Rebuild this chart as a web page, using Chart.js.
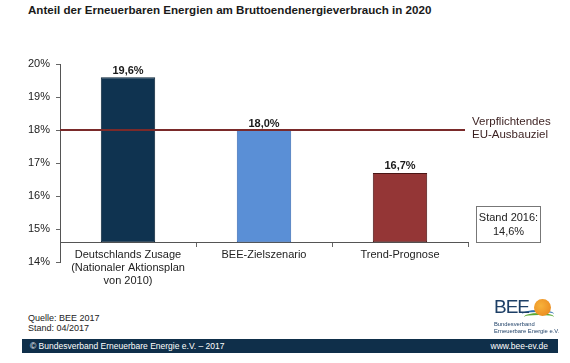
<!DOCTYPE html>
<html>
<head>
<meta charset="utf-8">
<script src="https://cdn.jsdelivr.net/npm/chart.js@4"></script>
<style>
  body { margin: 0; width: 570px; height: 363px; background: #fff; position: relative; overflow: hidden;
         font-family: "Liberation Sans", Arial, sans-serif; color: #222; }
  #title { position: absolute; left: 28px; top: 3px; font-size: 11.6px; font-weight: bold; color: #1a1a1a; }
  #wrap { position: absolute; left: 0; top: 0; width: 570px; height: 300px; }
  #stand { position: absolute; left: 476px; top: 206px; width: 65px; height: 37px; border: 1px solid #777;
           font-size: 11px; text-align: center; line-height: 14px; box-sizing: border-box; padding-top: 3px; color: #222; }
  #src { position: absolute; left: 28px; top: 314px; font-size: 9px; line-height: 9.5px; color: #222; }
  #bar { position: absolute; left: 22px; top: 339px; width: 536px; height: 14px; background: #0f2f4a;
         color: #fff; font-size: 8.5px; line-height: 14px; }
  #bar .l { position: absolute; left: 8px; }
  #bar .r { position: absolute; right: 10px; }
  #logo { position: absolute; left: 494px; top: 296px; width: 70px; height: 38px; }
  #logo .bee { position: absolute; left: 0; top: 0; font-size: 19px; color: #1d3f66; letter-spacing: -1px; }
  #logo .sun { position: absolute; left: 40px; top: 3px; width: 17px; height: 17px; border-radius: 50%;
               background: radial-gradient(circle at 40% 40%, #f7b23a, #e8821a); }
  #logo .w1 { position: absolute; left: 28px; top: 14px; width: 32px; height: 6px; border-top: 2px solid #2f6fb0; border-radius: 50%; }
  #logo .w2 { position: absolute; left: 30px; top: 17px; width: 30px; height: 6px; border-top: 2px solid #5aa832; border-radius: 50%; }
  #logo .t { position: absolute; left: 0; font-size: 5.8px; color: #1d3f66; white-space: nowrap; }
</style>
</head>
<body>
<div id="title">Anteil der Erneuerbaren Energien am Bruttoendenergieverbrauch in 2020</div>
<div id="wrap"><canvas id="chart"></canvas></div>
<div id="stand">Stand 2016:<br>14,6%</div>
<div id="src">Quelle: BEE 2017<br>Stand: 04/2017</div>
<div id="logo">
  <div class="w1"></div><div class="w2"></div><div class="sun"></div>
  <div class="bee">BEE</div>
  <div class="t" style="top:25px">Bundesverband</div>
  <div class="t" style="top:32px">Erneuerbare Energie e.V.</div>
</div>
<div id="bar"><span class="l">© Bundesverband Erneuerbare Energie e.V. – 2017</span><span class="r">www.bee-ev.de</span></div>
<script>
const categories = [
  ["Deutschlands Zusage", "(Nationaler Aktionsplan", "von 2010)"],
  "BEE-Zielszenario",
  "Trend-Prognose"
];
const values = [19.6, 18.0, 16.7];
const stand2016 = 14.6;
const euTarget = 18;
const yTicks = [14, 15, 16, 17, 18, 19, 20];
const barColors = ["#0f3350", "#5a8fd6", "#943636"];
const barBorders = ["#0a2438", "#3b6db5", "#4a1515"];

const fmt = v => v.toFixed(1).replace(".", ",") + "%";

const extras = {
  id: "extras",
  afterDatasetsDraw(chart) {
    const { ctx, scales: { x, y }, chartArea } = chart;
    const yy = y.getPixelForValue(euTarget);
    ctx.save();
    ctx.strokeStyle = "#7a2a2a";
    ctx.lineWidth = 2;
    ctx.beginPath();
    ctx.moveTo(chartArea.left, yy);
    ctx.lineTo(chartArea.right - 3, yy);
    ctx.stroke();

    ctx.fillStyle = "#3a1f1f";
    ctx.font = "11.5px 'Liberation Sans', Arial, sans-serif";
    ctx.textAlign = "left";
    ctx.textBaseline = "middle";
    ctx.fillText("Verpflichtendes", chartArea.right + 4, yy - 8);
    ctx.fillText("EU-Ausbauziel", chartArea.right + 4, yy + 5);

    const meta = chart.getDatasetMeta(0);
    ctx.fillStyle = "#1a1a1a";
    ctx.font = "bold 11px 'Liberation Sans', Arial, sans-serif";
    ctx.textAlign = "center";
    ctx.textBaseline = "bottom";
    meta.data.forEach((bar, i) => {
      ctx.fillText(fmt(values[i]), bar.x, bar.y - 1);
    });
    ctx.restore();
  }
};

new Chart(document.getElementById("chart"), {
  type: "bar",
  data: {
    labels: categories,
    datasets: [{
      data: values.map(v => [stand2016, v]),
      backgroundColor: barColors,
      borderColor: barBorders,
      borderWidth: 1,
      borderSkipped: false,
      categoryPercentage: 1,
      barPercentage: 0.4
    }]
  },
  options: {
    responsive: true,
    maintainAspectRatio: false,
    animation: false,
    layout: { padding: { left: 0, right: 102, top: 64, bottom: 38 } },
    plugins: { legend: { display: false }, tooltip: { enabled: false } },
    scales: {
      x: {
        position: { y: stand2016 },
        grid: { drawOnChartArea: false, tickLength: 4, color: "#666" },
        border: { color: "#555", width: 1 },
        ticks: {
          color: "#222",
          padding: 2,
          font: { family: "'Liberation Sans', Arial, sans-serif", size: 11, lineHeight: 1.2 },
          maxRotation: 0
        }
      },
      y: {
        min: yTicks[0],
        max: yTicks[yTicks.length - 1],
        afterFit(scale) { scale.width = 60; },
        afterBuildTicks(scale) { scale.ticks = yTicks.map(v => ({ value: v })); },
        grid: { drawOnChartArea: false, tickLength: 4, color: "#666" },
        border: { color: "#555", width: 1 },
        ticks: {
          color: "#222",
          padding: 6,
          font: { family: "'Liberation Sans', Arial, sans-serif", size: 11 },
          callback: v => v + "%"
        }
      }
    }
  },
  plugins: [extras]
});
</script>
</body>
</html>
